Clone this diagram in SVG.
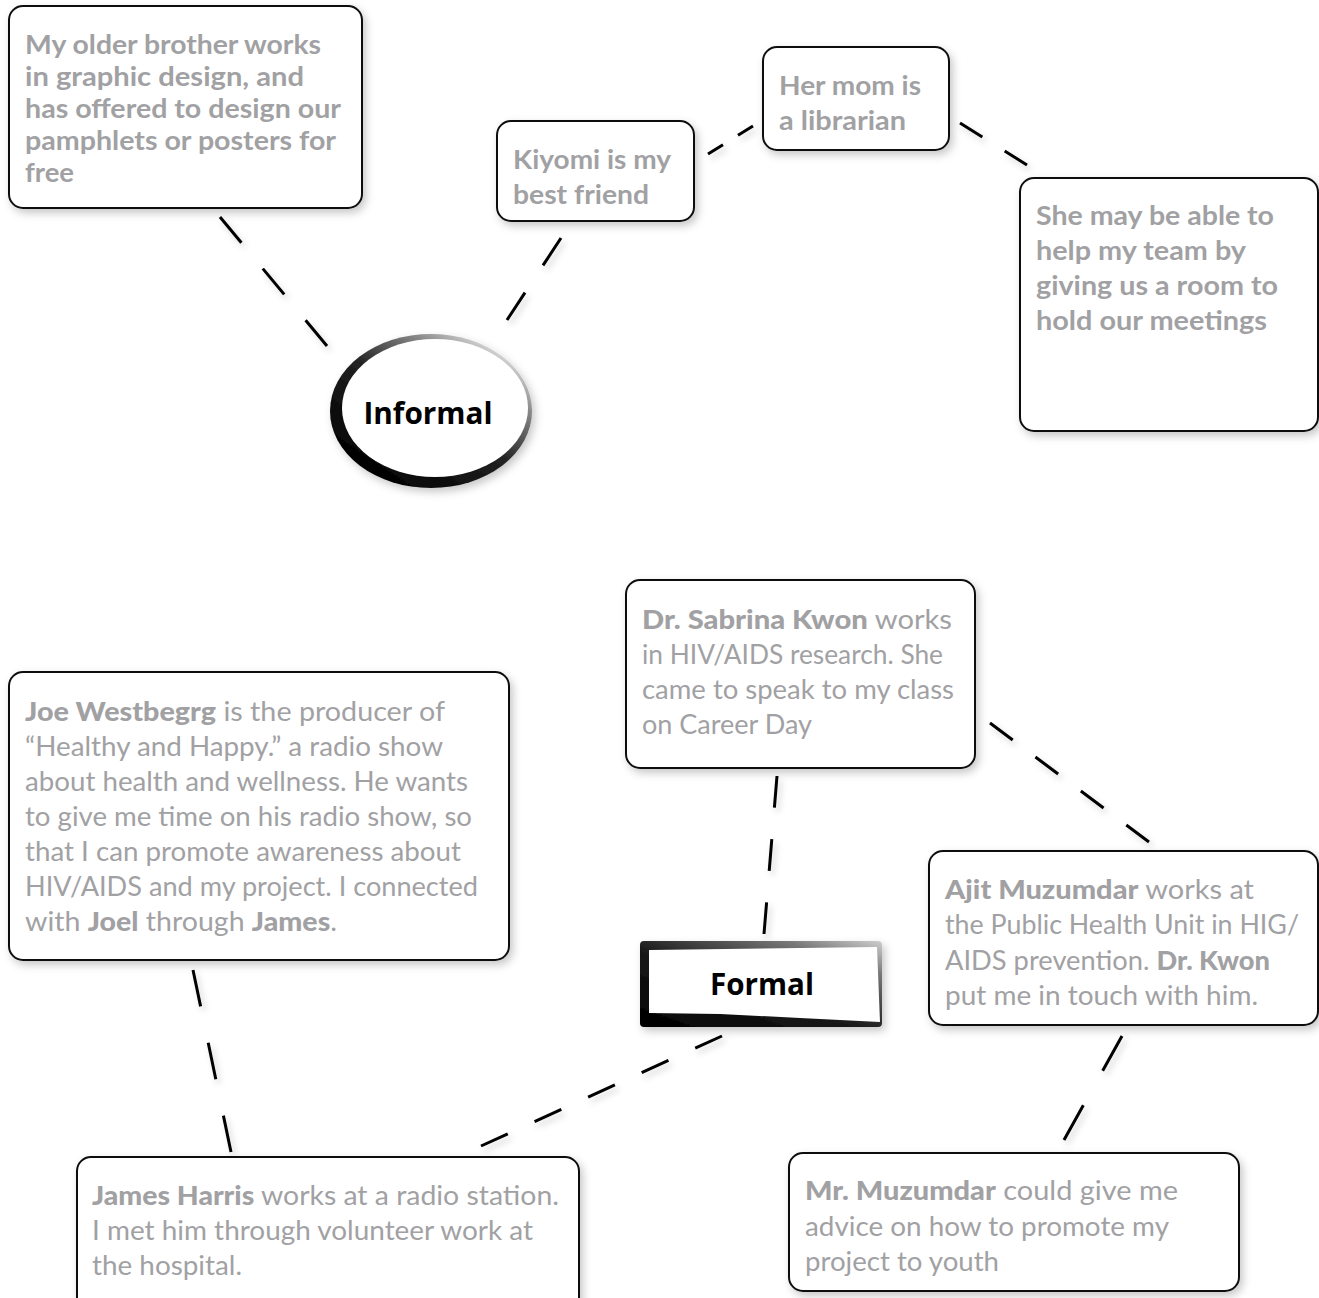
<svg xmlns="http://www.w3.org/2000/svg" width="1319" height="1298" viewBox="0 0 1319 1298">
<defs>
<filter id="sh" x="-10%" y="-10%" width="125%" height="130%">
<feDropShadow dx="3" dy="4" stdDeviation="4" flood-color="#000" flood-opacity="0.22"/>
</filter>
<filter id="lsh" x="-20%" y="-20%" width="140%" height="140%">
<feDropShadow dx="3" dy="4" stdDeviation="3" flood-color="#000" flood-opacity="0.18"/>
</filter>
<linearGradient id="rim" x1="0.15" y1="0.9" x2="0.85" y2="0.1">
<stop offset="0" stop-color="#000"/>
<stop offset="0.5" stop-color="#222"/>
<stop offset="0.8" stop-color="#888"/>
<stop offset="1" stop-color="#ddd"/>
</linearGradient>
<linearGradient id="frame" x1="0" y1="1" x2="1" y2="0">
<stop offset="0" stop-color="#000"/>
<stop offset="0.45" stop-color="#1a1a1a"/>
<stop offset="0.8" stop-color="#777"/>
<stop offset="1" stop-color="#cfcfcf"/>
</linearGradient>
</defs>
<style>
.box{fill:#fff;stroke:#111;stroke-width:2}
.t{font-family:Lato,"Open Sans","Liberation Sans",sans-serif;fill:#a1a1a4}
.sb{font-size:26px;font-weight:700}
.rg{font-size:27px;font-weight:400}
.b{font-weight:900}
.hd{font-family:"Open Sans","Noto Sans","Liberation Sans",sans-serif;font-size:31px;font-weight:700;fill:#000}
.c{fill:none;stroke:#000;stroke-width:3;stroke-dasharray:1 1}
</style>

<g id="connectors" filter="url(#lsh)">
<path class="c" d="M220,217 L327,346" pathLength="5"/>
<path class="c" d="M561,238 L507,320" pathLength="3"/>
<path class="c" d="M708,154 L753,126" pathLength="3"/>
<path class="c" d="M960,123 L1027,165" pathLength="3"/>
<path class="c" d="M777,776 L764,934" pathLength="5"/>
<path class="c" d="M990,723 L1149,842" pathLength="7"/>
<path class="c" d="M193,970 L231,1152" pathLength="5"/>
<path class="c" d="M722,1036 L481,1146" pathLength="9"/>
<path class="c" d="M1122,1036 L1064,1140" pathLength="3"/>
</g>

<g id="brother">
<rect class="box" x="9" y="6" width="353" height="202" rx="14" filter="url(#sh)"/>
<text class="t sb" x="25" y="54" textLength="296" lengthAdjust="spacingAndGlyphs">My older brother works</text>
<text class="t sb" x="25" y="86" textLength="279" lengthAdjust="spacingAndGlyphs">in graphic design, and</text>
<text class="t sb" x="25" y="118" textLength="316" lengthAdjust="spacingAndGlyphs">has offered to design our</text>
<text class="t sb" x="25" y="150" textLength="311" lengthAdjust="spacingAndGlyphs">pamphlets or posters for</text>
<text class="t sb" x="25" y="182" textLength="49" lengthAdjust="spacingAndGlyphs">free</text>
</g>

<g id="kiyomi">
<rect class="box" x="497" y="121" width="197" height="100" rx="14" filter="url(#sh)"/>
<text class="t sb" x="513" y="169" textLength="158" lengthAdjust="spacingAndGlyphs">Kiyomi is my</text>
<text class="t sb" x="513" y="204" textLength="136" lengthAdjust="spacingAndGlyphs">best friend</text>
</g>

<g id="mom">
<rect class="box" x="763" y="47" width="186" height="103" rx="14" filter="url(#sh)"/>
<text class="t sb" x="779" y="95" textLength="142" lengthAdjust="spacingAndGlyphs">Her mom is</text>
<text class="t sb" x="779" y="130" textLength="127" lengthAdjust="spacingAndGlyphs">a librarian</text>
</g>

<g id="room">
<rect class="box" x="1020" y="178" width="298" height="253" rx="14" filter="url(#sh)"/>
<text class="t sb" x="1036" y="225" textLength="238" lengthAdjust="spacingAndGlyphs">She may be able to</text>
<text class="t sb" x="1036" y="260" textLength="210" lengthAdjust="spacingAndGlyphs">help my team by</text>
<text class="t sb" x="1036" y="295" textLength="242" lengthAdjust="spacingAndGlyphs">giving us a room to</text>
<text class="t sb" x="1036" y="330" textLength="231" lengthAdjust="spacingAndGlyphs">hold our meetings</text>
</g>

<g id="informal">
<ellipse cx="431" cy="411" rx="101" ry="77" fill="url(#rim)" filter="url(#sh)"/>
<ellipse cx="435" cy="408" rx="93" ry="69" fill="#fff"/>
<text class="hd" x="428" y="424" text-anchor="middle" textLength="129" lengthAdjust="spacingAndGlyphs">Informal</text>
</g>

<g id="sabrina">
<rect class="box" x="626" y="580" width="349" height="188" rx="14" filter="url(#sh)"/>
<text class="t rg" x="642" y="629" textLength="310" lengthAdjust="spacingAndGlyphs"><tspan class="b">Dr. Sabrina Kwon</tspan> works</text>
<text class="t rg" x="642" y="664" textLength="301" lengthAdjust="spacingAndGlyphs">in HIV/AIDS research. She</text>
<text class="t rg" x="642" y="699" textLength="312" lengthAdjust="spacingAndGlyphs">came to speak to my class</text>
<text class="t rg" x="642" y="734" textLength="170" lengthAdjust="spacingAndGlyphs">on Career Day</text>
</g>

<g id="joe">
<rect class="box" x="9" y="672" width="500" height="288" rx="14" filter="url(#sh)"/>
<text class="t rg" x="25" y="721" textLength="420" lengthAdjust="spacingAndGlyphs"><tspan class="b">Joe Westbegrg</tspan> is the producer of</text>
<text class="t rg" x="25" y="756" textLength="418" lengthAdjust="spacingAndGlyphs">“Healthy and Happy.” a radio show</text>
<text class="t rg" x="25" y="791" textLength="443" lengthAdjust="spacingAndGlyphs">about health and wellness. He wants</text>
<text class="t rg" x="25" y="826" textLength="447" lengthAdjust="spacingAndGlyphs">to give me time on his radio show, so</text>
<text class="t rg" x="25" y="861" textLength="436" lengthAdjust="spacingAndGlyphs">that I can promote awareness about</text>
<text class="t rg" x="25" y="896" textLength="453" lengthAdjust="spacingAndGlyphs">HIV/AIDS and my project. I connected</text>
<text class="t rg" x="25" y="931" textLength="312" lengthAdjust="spacingAndGlyphs">with <tspan class="b">Joel</tspan> through <tspan class="b">James</tspan>.</text>
</g>

<g id="formal">
<rect x="640" y="941" width="242" height="86" rx="4" fill="url(#frame)" filter="url(#sh)"/>
<path d="M649,950 L877,947 L880,1022 L800,1018 L720,1014 L649,1013 Z" fill="#fff"/>
<text class="hd" x="762" y="995" text-anchor="middle" textLength="104" lengthAdjust="spacingAndGlyphs">Formal</text>
</g>

<g id="ajit">
<rect class="box" x="929" y="851" width="389" height="174" rx="14" filter="url(#sh)"/>
<text class="t rg" x="945" y="899" textLength="309" lengthAdjust="spacingAndGlyphs"><tspan class="b">Ajit Muzumdar</tspan> works at</text>
<text class="t rg" x="945" y="934" textLength="354" lengthAdjust="spacingAndGlyphs">the Public Health Unit in HIG/</text>
<text class="t rg" x="945" y="970" textLength="325" lengthAdjust="spacingAndGlyphs">AIDS prevention. <tspan class="b">Dr. Kwon</tspan></text>
<text class="t rg" x="945" y="1005" textLength="313" lengthAdjust="spacingAndGlyphs">put me in touch with him.</text>
</g>

<g id="james">
<rect class="box" x="77" y="1157" width="502" height="160" rx="14" filter="url(#sh)"/>
<text class="t rg" x="92" y="1205" textLength="467" lengthAdjust="spacingAndGlyphs"><tspan class="b">James Harris</tspan> works at a radio station.</text>
<text class="t rg" x="92" y="1240" textLength="441" lengthAdjust="spacingAndGlyphs">I met him through volunteer work at</text>
<text class="t rg" x="92" y="1275" textLength="150" lengthAdjust="spacingAndGlyphs">the hospital.</text>
</g>

<g id="muzumdar">
<rect class="box" x="789" y="1153" width="450" height="138" rx="14" filter="url(#sh)"/>
<text class="t rg" x="805" y="1200" textLength="373" lengthAdjust="spacingAndGlyphs"><tspan class="b">Mr. Muzumdar</tspan> could give me</text>
<text class="t rg" x="805" y="1236" textLength="364" lengthAdjust="spacingAndGlyphs">advice on how to promote my</text>
<text class="t rg" x="805" y="1271" textLength="194" lengthAdjust="spacingAndGlyphs">project to youth</text>
</g>
</svg>
